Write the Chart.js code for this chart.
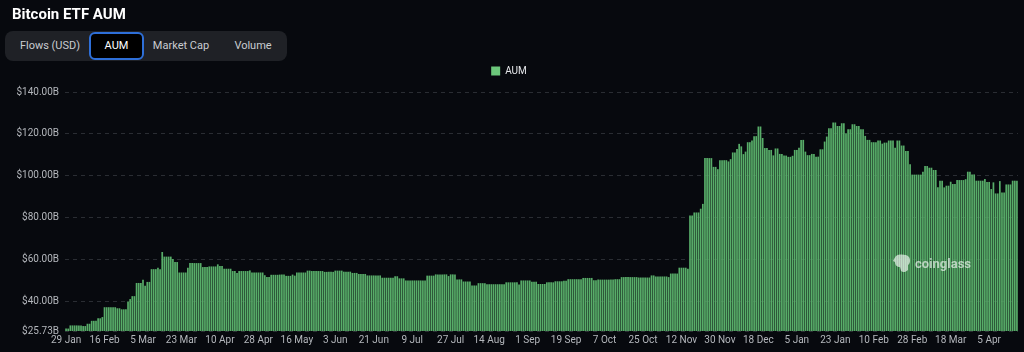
<!DOCTYPE html>
<html>
<head>
<meta charset="utf-8">
<script src="https://cdn.jsdelivr.net/npm/chart.js@4.4.1/dist/chart.umd.min.js"></script>
<style>
  html, body { margin:0; padding:0; background:#07090e; width:1024px; height:352px; overflow:hidden; font-family: Roboto, "Noto Sans", sans-serif; }
  #chartWrap { position:absolute; left:0; top:0; width:1024px; height:352px; }
  #title { position:absolute; left:12px; top:5px; color:#ffffff; font-weight:700; font-size:15px; z-index:2; }
  #tabs { position:absolute; left:5px; top:31px; width:282px; height:30px; background:#1f2126; border-radius:8px; z-index:2; }
  .tab { position:absolute; top:0; height:30px; line-height:30px; font-size:11px; color:#c9ccd1; text-align:center; white-space:nowrap; }
  .tab.sel { top:1px; height:24px; line-height:24px; background:#000; border:2px solid #2e6fd8; border-radius:6px; color:#ffffff; }
  #wm { position:absolute; left:893px; top:253px; height:20px; z-index:2; display:flex; align-items:center; gap:4px; color:rgba(255,255,255,0.62); font-weight:700; font-size:13px; }
</style>
</head>
<body>
<div id="chartWrap"><canvas id="c" width="1024" height="352"></canvas></div>
<div id="title">Bitcoin ETF AUM</div>
<div id="tabs">
  <div class="tab" style="left:5px;width:80px;">Flows (USD)</div>
  <div class="tab sel" style="left:84px;width:51px;">AUM</div>
  <div class="tab" style="left:141px;width:70px;">Market Cap</div>
  <div class="tab" style="left:218px;width:60px;">Volume</div>
</div>
<div id="wm">
  <svg width="18" height="19" viewBox="0 0 18 19"><path d="M3 2 C6 0 13 0 16 3 C18 6 17 10 15 11 L15 16 C13 18 10 19 8 17 L7 13 C4 13 2 11 2 8 L0 7 C1 5 2 3 3 2 Z" fill="rgba(255,255,255,0.62)"/></svg>
  <span>coinglass</span>
</div>
<script>
// ---- Data (AUM in billions USD, daily from 29 Jan 2024) ----
const startDate = '2024-01-29';
const aumValues = [
  26.9, 26.9, 28.4, 28.4, 28.4, 28.4, 28.4, 28.4, 28.1, 28.1,
  29.2, 29.2, 30.6, 30.6, 30.6, 31.8, 31.8, 32.4, 37.1, 37.1,
  37.1, 37.1, 37.1, 37.1, 36.6, 36.6, 36.1, 36.1, 36.1, 39.8,
  41.0, 42.4, 42.4, 48.7, 48.7, 48.7, 50.2, 47.4, 49.2, 49.2,
  55.3, 55.3, 55.3, 56.0, 55.3, 63.5, 61.3, 61.3, 61.3, 61.3,
  60.2, 58.7, 58.7, 53.7, 53.7, 53.7, 53.7, 56.0, 58.2, 58.2,
  58.2, 58.2, 58.2, 58.2, 56.3, 56.3, 56.3, 56.6, 56.6, 56.6,
  56.6, 57.6, 56.8, 56.8, 55.5, 55.5, 55.5, 55.5, 54.4, 54.4,
  53.5, 54.4, 54.4, 54.4, 54.4, 54.4, 54.7, 53.7, 53.7, 53.7,
  53.7, 53.7, 53.7, 52.4, 51.5, 51.5, 52.6, 52.6, 52.6, 52.6,
  52.7, 52.7, 52.7, 52.1, 52.1, 52.1, 52.7, 52.2, 53.7, 53.7,
  53.7, 53.7, 53.7, 54.6, 54.6, 54.4, 54.4, 54.4, 54.4, 54.4,
  54.4, 54.0, 54.0, 54.0, 54.0, 54.0, 54.6, 54.6, 54.6, 54.6,
  54.1, 54.1, 54.1, 54.1, 53.5, 53.5, 53.5, 53.0, 53.0, 53.0,
  53.0, 52.3, 52.3, 52.3, 52.3, 52.3, 52.3, 52.3, 51.2, 51.2,
  51.2, 51.2, 51.2, 51.2, 51.9, 51.9, 50.9, 50.9, 50.9, 49.9,
  49.9, 49.9, 49.9, 49.9, 49.9, 49.9, 49.9, 49.9, 49.9, 52.2,
  52.2, 52.2, 52.2, 52.8, 52.8, 52.8, 52.8, 52.8, 52.8, 52.0,
  52.8, 52.8, 52.8, 50.4, 50.4, 50.4, 49.4, 49.4, 49.4, 49.4,
  47.5, 47.5, 47.5, 48.6, 48.6, 48.6, 48.6, 48.1, 48.1, 48.1,
  48.1, 48.1, 48.1, 48.1, 48.1, 48.1, 49.0, 49.0, 49.0, 49.0,
  49.0, 49.0, 48.0, 49.9, 49.9, 49.9, 49.9, 49.9, 49.3, 49.3,
  49.3, 48.2, 48.2, 48.2, 48.2, 49.0, 49.0, 49.0, 49.0, 49.5,
  49.5, 49.5, 49.5, 49.7, 49.7, 50.5, 50.5, 50.5, 50.5, 50.5,
  50.5, 50.5, 51.1, 51.1, 51.1, 51.1, 51.1, 50.0, 50.0, 50.3,
  50.3, 50.3, 50.3, 50.3, 50.3, 50.3, 50.3, 50.5, 50.5, 50.5,
  51.5, 51.5, 51.5, 51.5, 51.5, 51.5, 51.5, 51.5, 51.3, 51.3,
  51.3, 51.3, 51.3, 51.3, 52.3, 52.3, 51.8, 51.8, 51.8, 51.8,
  51.8, 51.8, 51.5, 53.2, 53.2, 53.2, 53.2, 56.0, 56.0, 56.0,
  56.0, 55.5, 81.0, 81.0, 82.4, 82.4, 82.4, 84.2, 86.5, 108.4,
  108.4, 108.4, 108.4, 104.2, 104.2, 103.1, 107.4, 107.4, 107.4, 107.4,
  106.8, 107.9, 111.1, 111.1, 112.7, 115.2, 114.0, 110.3, 111.5, 116.0,
  116.0, 116.8, 118.9, 118.9, 123.5, 123.5, 118.0, 113.2, 113.2, 112.3,
  112.3, 109.7, 113.0, 113.0, 110.4, 110.4, 109.6, 109.6, 109.0, 109.0,
  109.5, 112.3, 112.3, 113.4, 117.1, 117.1, 111.5, 109.8, 109.8, 110.4,
  110.4, 109.1, 109.1, 112.6, 112.6, 116.3, 118.7, 122.7, 122.7, 125.4,
  125.4, 123.8, 123.8, 125.1, 125.1, 120.3, 122.2, 122.2, 124.6, 124.6,
  123.8, 123.8, 122.2, 122.2, 119.0, 117.1, 117.1, 116.0, 116.0, 116.0,
  116.8, 116.8, 115.3, 115.8, 115.8, 116.8, 116.8, 116.8, 113.4, 116.8,
  116.8, 114.4, 114.4, 111.8, 111.8, 105.4, 100.5, 100.5, 100.5, 100.5,
  100.5, 101.9, 104.6, 104.6, 103.8, 103.8, 102.7, 102.7, 94.4, 97.6,
  97.6, 94.4, 95.2, 95.2, 97.1, 96.0, 96.0, 97.9, 97.9, 97.9,
  97.9, 98.3, 101.9, 101.9, 100.6, 100.6, 97.6, 97.6, 97.6, 97.6,
  98.4, 97.0, 97.0, 93.6, 96.8, 91.5, 91.5, 97.4, 92.0, 92.0,
  95.8, 95.8, 95.8, 97.6, 97.6, 97.6
];
const tickLabels = ['29 Jan','16 Feb','5 Mar','23 Mar','10 Apr','28 Apr','16 May','3 Jun','21 Jun','9 Jul','27 Jul','14 Aug','1 Sep','19 Sep','7 Oct','25 Oct','12 Nov','30 Nov','18 Dec','5 Jan','23 Jan','10 Feb','28 Feb','18 Mar','5 Apr'];
const tickEvery = 18;
const yMin = 25.73;
const yMax = 140;
const yStep = 20;

// ---- Categories: one per calendar day ----
const monthNames = ['Jan','Feb','Mar','Apr','May','Jun','Jul','Aug','Sep','Oct','Nov','Dec'];
const categories = aumValues.map((_, i) => {
  const d = new Date(startDate + 'T00:00:00Z');
  d.setUTCDate(d.getUTCDate() + i);
  return d.getUTCDate() + ' ' + monthNames[d.getUTCMonth()];
});

Chart.defaults.font.family = 'Roboto, "Noto Sans", sans-serif';

// adds a little room under the legend
const legendGap = {
  id: 'legendGap',
  beforeInit(chart) {
    const origFit = chart.legend.fit;
    chart.legend.fit = function () {
      origFit.bind(chart.legend)();
      this.height += 6;
    };
  }
};

new Chart(document.getElementById('c'), {
  type: 'bar',
  plugins: [legendGap],
  data: {
    labels: categories,
    datasets: [{
      label: 'AUM',
      data: aumValues,
      backgroundColor: '#58ad69',
      borderWidth: 0,
      barPercentage: 0.8,
      categoryPercentage: 1.0
    }]
  },
  options: {
    responsive: false,
    animation: false,
    layout: { padding: { top: 58, left: 0, right: 6, bottom: 3 } },
    plugins: {
      legend: {
        display: true,
        position: 'top',
        labels: {
          color: '#e6e8eb',
          boxWidth: 9,
          boxHeight: 9,
          padding: 8,
          font: { size: 10 },
          generateLabels: (chart) => [{
            text: 'AUM', fillStyle: '#6cc77b', strokeStyle: '#6cc77b', lineWidth: 0, datasetIndex: 0, fontColor: '#e6e8eb'
          }]
        }
      },
      tooltip: { enabled: false }
    },
    scales: {
      x: {
        grid: { display: false, drawTicks: false },
        border: { display: false },
        ticks: {
          autoSkip: false,
          maxRotation: 0,
          minRotation: 0,
          padding: 3,
          color: '#b4b7bc',
          font: { size: 10 },
          callback: (val, index) => (index % tickEvery === 0 ? (tickLabels[index / tickEvery] || '') : '')
        }
      },
      y: {
        min: yMin,
        max: yMax,
        afterFit: (scale) => { scale.width = 65; },
        grid: { color: '#2a2d33', drawTicks: false, lineWidth: 1 },
        border: { display: false, dash: [4, 4] },
        ticks: {
          stepSize: yStep,
          padding: 6,
          color: '#b4b7bc',
          font: { size: 10 },
          callback: (v) => '$' + Number(v).toFixed(2) + 'B'
        }
      }
    }
  }
});
</script>
</body>
</html>
